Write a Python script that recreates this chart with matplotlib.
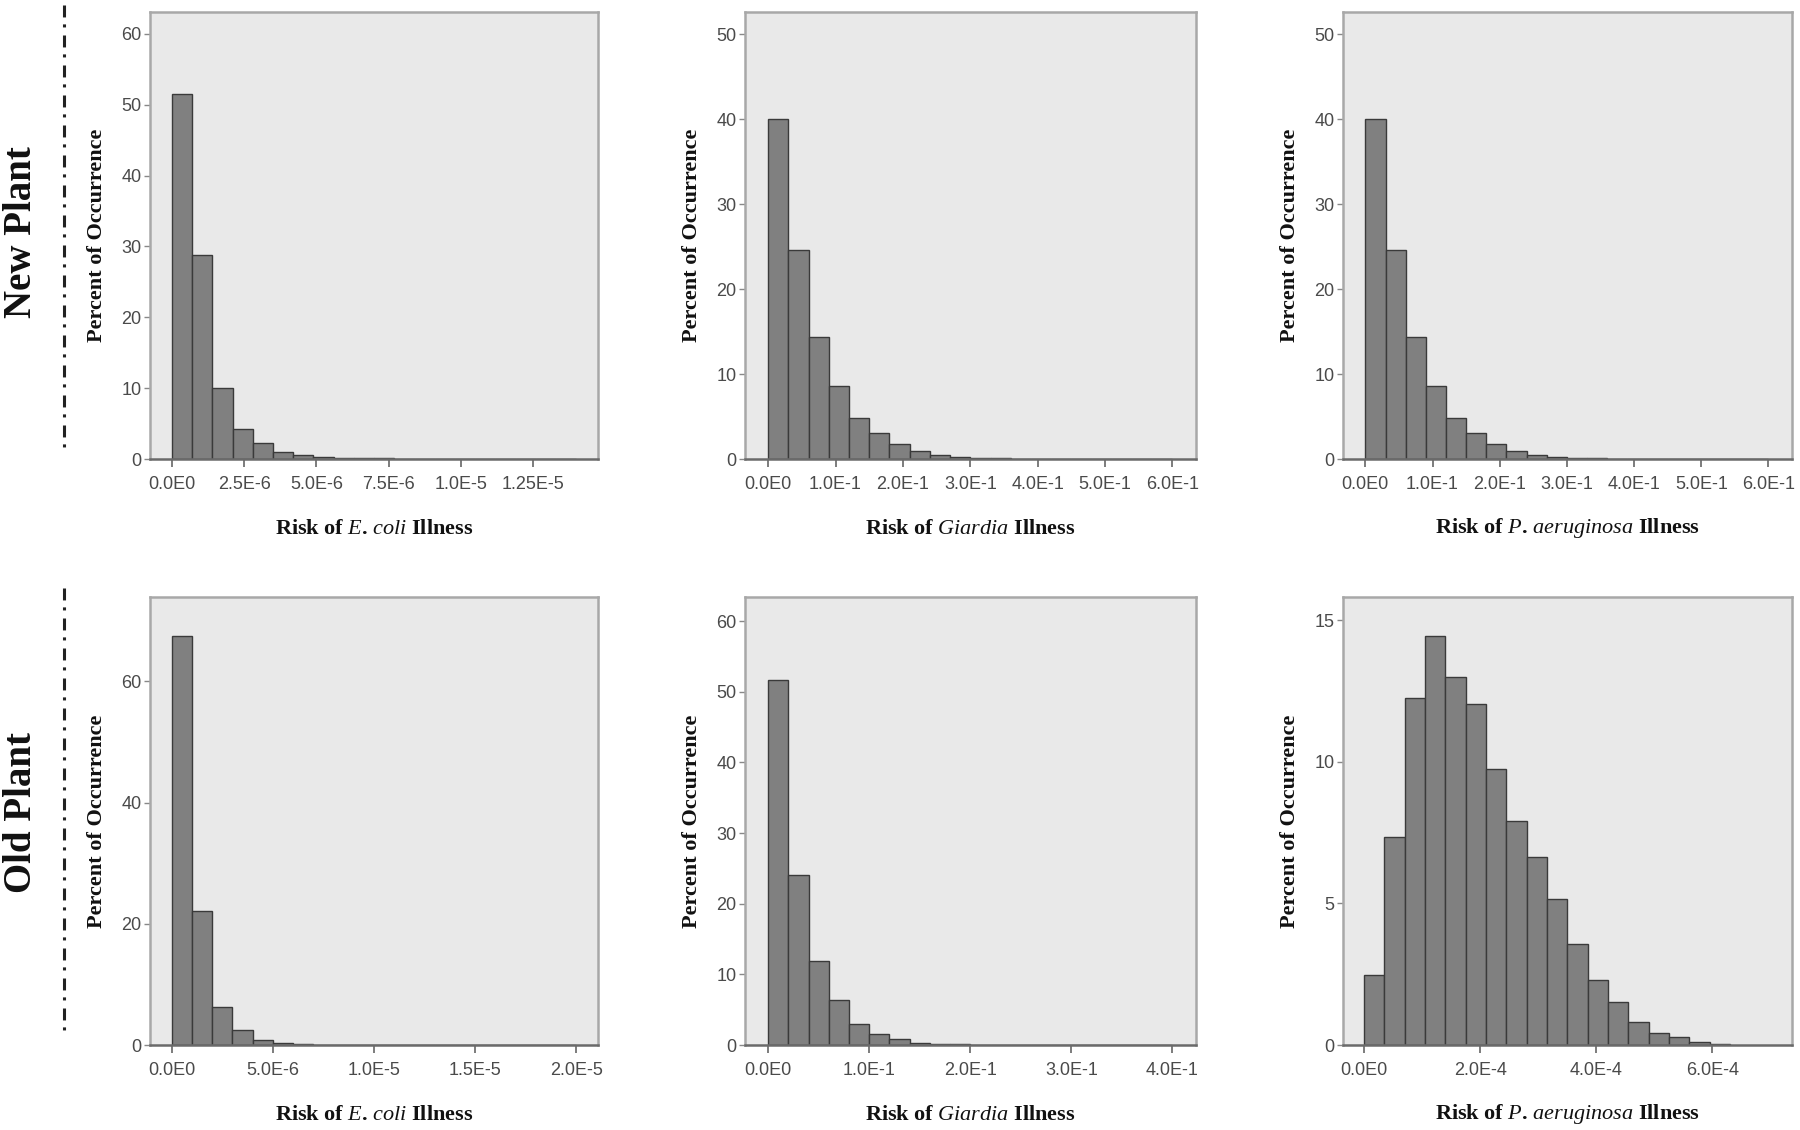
import matplotlib
matplotlib.use("Agg")
import matplotlib.pyplot as plt
import numpy as np

plt.rcParams['lines.scale_dashes'] = False
plt.rcParams['mathtext.fontset'] = 'custom'
plt.rcParams['mathtext.rm'] = 'Liberation Serif:bold'
plt.rcParams['mathtext.bf'] = 'Liberation Serif:bold'
plt.rcParams['mathtext.it'] = 'Liberation Serif:italic'

# ---------------- data ----------------
row_labels = ["New Plant", "Old Plant"]

new_ecoli_start, new_ecoli_bw = 0.0, 0.7e-6
new_ecoli = [51.5, 28.8, 10.0, 4.3, 2.3, 1.0, 0.55, 0.3, 0.2, 0.1,
             0.08, 0.05, 0.04, 0.03, 0.03, 0.02, 0.02, 0.0, 0.0, 0.05]
new_giardia_start, new_giardia_bw = 0.0, 0.03
new_giardia = [40.0, 24.6, 14.3, 8.6, 4.8, 3.1, 1.8, 0.9, 0.46, 0.25,
               0.12, 0.08, 0.05, 0.03, 0.02, 0.01, 0.01, 0.0, 0.02, 0.0]
new_paer_start, new_paer_bw = 0.0, 0.03
new_paer = [40.0, 24.6, 14.3, 8.6, 4.8, 3.1, 1.8, 0.9, 0.46, 0.25,
            0.12, 0.08, 0.05, 0.03, 0.02, 0.01, 0.01, 0.0, 0.02, 0.0]

old_ecoli_start, old_ecoli_bw = 0.0, 1.0e-6
old_ecoli = [67.5, 22.1, 6.3, 2.4, 0.8, 0.3, 0.15, 0.08, 0.05, 0.03,
             0.02, 0.01, 0.0, 0.01, 0.01, 0.0, 0.0, 0.0, 0.02, 0.0]
old_giardia_start, old_giardia_bw = 0.0, 0.02
old_giardia = [51.6, 24.0, 11.9, 6.4, 3.0, 1.5, 0.8, 0.35, 0.15, 0.08,
               0.05, 0.03, 0.02, 0.01, 0.01, 0.0, 0.02, 0.0, 0.0, 0.0]
old_paer_start, old_paer_bw = 0.0, 3.5e-5
old_paer = [2.47, 7.35, 12.27, 14.43, 12.99, 12.05, 9.74, 7.91, 6.65, 5.15,
            3.57, 2.31, 1.53, 0.80, 0.44, 0.28, 0.09, 0.05]

xt_new_ecoli = [0, 2.5e-6, 5.0e-6, 7.5e-6, 1.0e-5, 1.25e-5]
xl_new_ecoli = ["0.0E0", "2.5E-6", "5.0E-6", "7.5E-6", "1.0E-5", "1.25E-5"]
xt_new_risk = [0, 0.1, 0.2, 0.3, 0.4, 0.5, 0.6]
xl_new_risk = ["0.0E0", "1.0E-1", "2.0E-1", "3.0E-1", "4.0E-1", "5.0E-1", "6.0E-1"]
xt_old_ecoli = [0, 5e-6, 1e-5, 1.5e-5, 2e-5]
xl_old_ecoli = ["0.0E0", "5.0E-6", "1.0E-5", "1.5E-5", "2.0E-5"]
xt_old_giardia = [0, 0.1, 0.2, 0.3, 0.4]
xl_old_giardia = ["0.0E0", "1.0E-1", "2.0E-1", "3.0E-1", "4.0E-1"]
xt_old_paer = [0, 2e-4, 4e-4, 6e-4]
xl_old_paer = ["0.0E0", "2.0E-4", "4.0E-4", "6.0E-4"]

yt_new_ecoli = [0, 10, 20, 30, 40, 50, 60]
yt_new_risk = [0, 10, 20, 30, 40, 50]
yt_old_ecoli = [0, 20, 40, 60]
yt_old_giardia = [0, 10, 20, 30, 40, 50, 60]
yt_old_paer = [0, 5, 10, 15]

xlab_ecoli = r"$\mathbf{Risk\ of}\ \mathit{E.\,coli}\ \mathbf{Illness}$"
xlab_giardia = r"$\mathbf{Risk\ of}\ \mathit{Giardia}\ \mathbf{Illness}$"
xlab_paer = r"$\mathbf{Risk\ of}\ \mathit{P.\,aeruginosa}\ \mathbf{Illness}$"
ylab = "Percent of Occurrence"

panels = [
    # row, col, start, bw, heights, xticks, xlabels, yticks, xlim, ytop, xlabel
    (0, 0, new_ecoli_start, new_ecoli_bw, new_ecoli, xt_new_ecoli, xl_new_ecoli,
     yt_new_ecoli, (-0.76e-6, 14.75e-6), 63.1, xlab_ecoli),
    (0, 1, new_giardia_start, new_giardia_bw, new_giardia, xt_new_risk, xl_new_risk,
     yt_new_risk, (-0.0344, 0.635), 52.6, xlab_giardia),
    (0, 2, new_paer_start, new_paer_bw, new_paer, xt_new_risk, xl_new_risk,
     yt_new_risk, (-0.0333, 0.635), 52.6, xlab_paer),
    (1, 0, old_ecoli_start, old_ecoli_bw, old_ecoli, xt_old_ecoli, xl_old_ecoli,
     yt_old_ecoli, (-1.08e-6, 21.08e-6), 73.9, xlab_ecoli),
    (1, 1, old_giardia_start, old_giardia_bw, old_giardia, xt_old_giardia, xl_old_giardia,
     yt_old_giardia, (-0.0229, 0.4233), 63.4, xlab_giardia),
    (1, 2, old_paer_start, old_paer_bw, old_paer, xt_old_paer, xl_old_paer,
     yt_old_paer, (-0.36e-4, 7.37e-4), 15.82, xlab_paer),
]

# ---------------- layout ----------------
W, H = 1800, 1130
col_px = [(150, 598), (745, 1196), (1343, 1792)]
row_px = [(12, 459), (597, 1045)]

fig = plt.figure(figsize=(W / 100, H / 100), dpi=100)
fig.patch.set_facecolor("white")


def box(l, t, r, b):
    return [l / W, 1 - b / H, (r - l) / W, (b - t) / H]


tick_font = dict(family="Liberation Sans", size=13, color="#4a4a4a")

for (r, c, start, bw, hts, xt, xl, yt, xlim, ytop, xlab) in panels:
    l, rr = col_px[c]
    t, b = row_px[r]
    ax = fig.add_axes(box(l, t, rr, b))
    ax.set_facecolor("#e9e9e9")
    edges = start + bw * np.arange(len(hts))
    ax.bar(edges, hts, width=bw, align="edge", color="#808080",
           edgecolor="#3a3a3a", linewidth=1.0, zorder=2)
    ax.set_xlim(*xlim)
    ax.set_ylim(0, ytop)
    ax.set_xticks(xt)
    ax.set_xticklabels(xl, fontdict=tick_font)
    ax.set_yticks(yt)
    ax.set_yticklabels([str(v) for v in yt], fontdict=tick_font)
    ax.tick_params(axis="x", direction="out", length=6, width=1.2,
                   color="#666666", pad=6)
    ax.tick_params(axis="y", direction="out", length=4, width=1.0,
                   color="#888888", pad=2)
    for side in ["top", "left", "right"]:
        ax.spines[side].set_color("#a8a8a8")
        ax.spines[side].set_linewidth(1.8)
    ax.spines["bottom"].set_color("#6a6a6a")
    ax.spines["bottom"].set_linewidth(1.8)
    ax.spines["bottom"].set_zorder(3)

    # y label
    fig.text((l - 53) / W, 1 - ((t + b) / 2) / H, ylab, rotation=90,
             ha="center", va="center", family="Liberation Serif",
             weight="bold", size=16, color="#111111")
    # x label
    fig.text(((l + rr) / 2) / W, 1 - (b + 69) / H, xlab, ha="center",
             va="center", size=16, color="#111111")

# row labels (baseline placed at x = 31 px, glyphs extend to the left)
row_label_y = [232, 813]
for lab, yc in zip(row_labels, row_label_y):
    fig.text(31 / W, 1 - yc / H, lab, rotation=90, rotation_mode="anchor",
             ha="center", va="baseline",
             family="Liberation Serif", weight="bold", size=28, color="#111111")

# dash-dot separators
line_spans = [(5, 452), (588, 1034)]
for (y0, y1) in line_spans:
    fig.add_artist(plt.Line2D([64 / W, 64 / W], [1 - y0 / H, 1 - y1 / H],
                              transform=fig.transFigure, color="#222222",
                              linewidth=2.2, linestyle=(0, (8.6, 5.0, 2.2, 5.8))))

fig.savefig("out.png", dpi=100, facecolor="white")
